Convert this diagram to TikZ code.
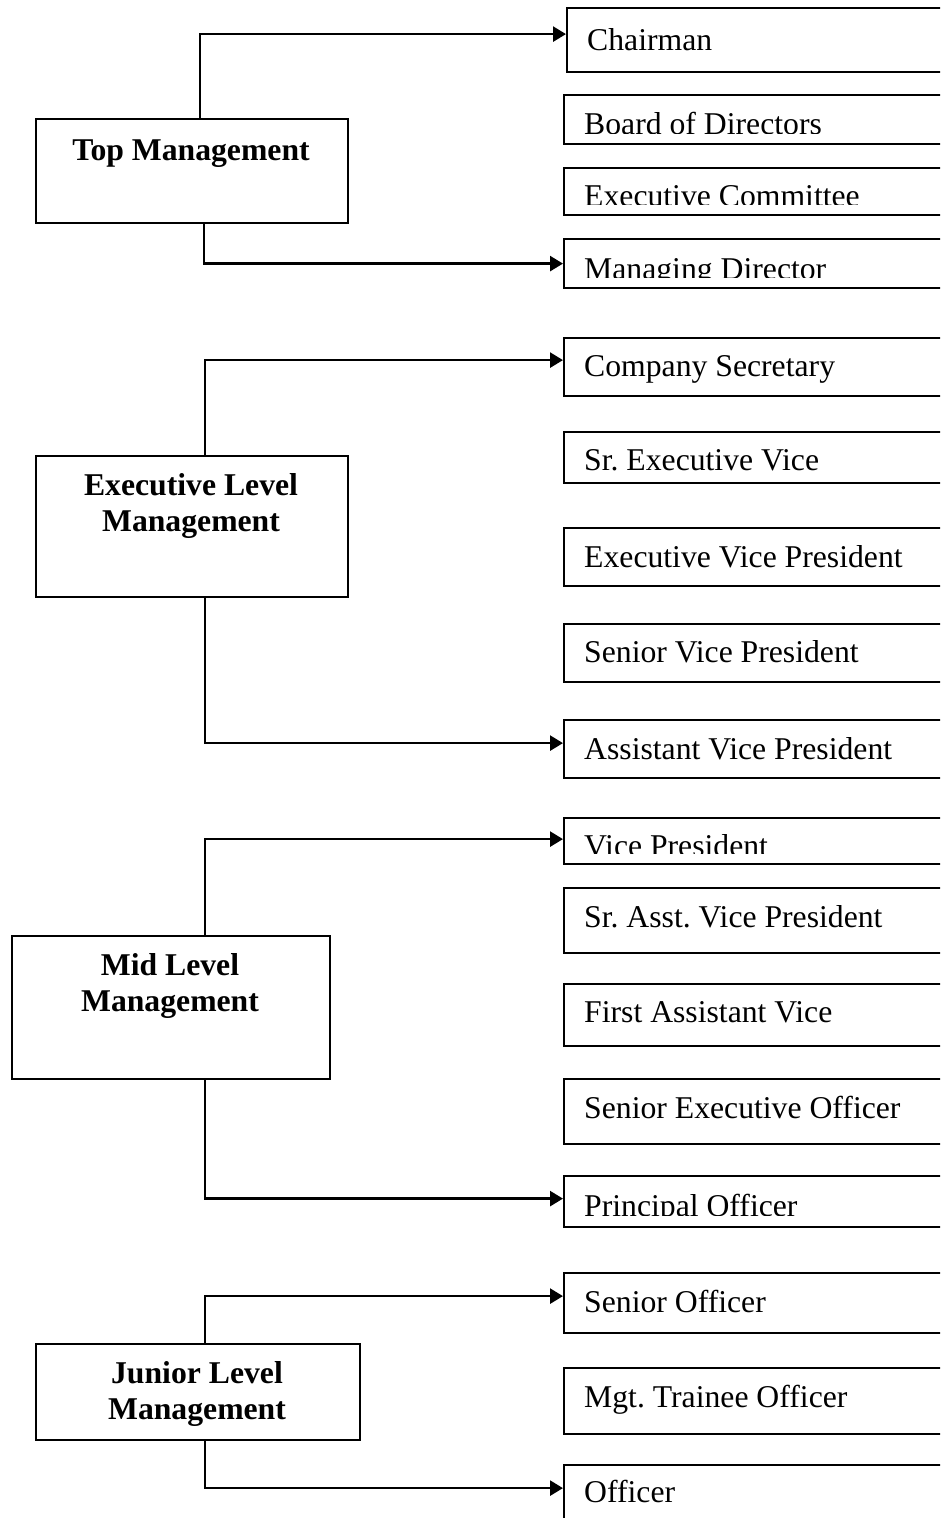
\documentclass[tikz,border=0pt]{standalone}
\usepackage{fontspec}
\setmainfont{Liberation Serif}
\usetikzlibrary{arrows.meta}
\newcommand\chartfont{\fontsize{31.7}{36}\selectfont\frenchspacing}
\tikzset{
  post/.style={draw, line width=2.2pt, anchor=north west, minimum width=400, inner sep=0pt},
  level/.style={draw, line width=2.2pt, anchor=north west, inner sep=0pt},
  txt/.style={anchor=base west, inner sep=0pt},
  head/.style={anchor=base, inner sep=0pt, align=center, font=\chartfont\bfseries},
  link/.style={line width=2.6pt, -{Triangle[length=13pt,width=15pt]}},
}
\begin{document}
\begin{tikzpicture}[x=1pt, y=-1pt, font=\chartfont]
\clip (0,0) rectangle (940,1518);
% top management
\node[level, minimum width=312, minimum height=104] (tm) at (35,118) {};
\node[head] at (191,160) {Top Management};
\node[post, minimum height=64] (chair) at (566,7) {};
\node[txt] at (587,50) {Chairman};
\node[post, minimum height=49] (bod) at (563,94) {};
\begin{scope}
\clip (563,94) rectangle (940,133);
\node[txt] at (584,134) {Board of Directors};
\end{scope}
\node[post, minimum height=47] (ec) at (563,167) {};
\begin{scope}
\clip (563,167) rectangle (940,204);
\node[txt] at (584,206) {Executive Committee};
\end{scope}
\node[post, minimum height=49] (md) at (563,238) {};
\begin{scope}
\clip (563,238) rectangle (940,277);
\node[txt] at (584,279) {Managing Director};
\end{scope}
\draw[link] ([xshift=8pt]tm.north) |- ([yshift=6pt]chair.west);
\draw[link] ([xshift=12pt]tm.south) |- (md.west);
% executive level
\node[level, minimum width=312, minimum height=141] (elm) at (35,455) {};
\node[head] at (191,531) {Executive Level\\Management};
\node[post, minimum height=58] (cs) at (563,337) {};
\node[txt] at (584,376) {Company Secretary};
\node[post, minimum height=51] (sev) at (563,431) {};
\node[txt] at (584,470) {Sr. Executive Vice};
\node[post, minimum height=58] (evp) at (563,527) {};
\node[txt] at (584,567) {Executive Vice President};
\node[post, minimum height=58] (svp) at (563,623) {};
\node[txt] at (584,662) {Senior Vice President};
\node[post, minimum height=58] (avp) at (563,719) {};
\node[txt] at (584,759) {Assistant Vice President};
\draw[link] ([xshift=13pt]elm.north) |- ([yshift=7pt]cs.west);
\draw[link] ([xshift=13pt]elm.south) |- ([yshift=6pt]avp.west);
% mid level
\node[level, minimum width=318, minimum height=143] (mlm) at (11,935) {};
\node[head] at (170,1011) {Mid Level\\Management};
\node[post, minimum height=46] (vp) at (563,817) {};
\begin{scope}
\clip (563,817) rectangle (940,853);
\node[txt] at (584,856) {Vice President};
\end{scope}
\node[post, minimum height=65] (savp) at (563,887) {};
\node[txt] at (584,927) {Sr. Asst. Vice President};
\node[post, minimum height=62] (fav) at (563,983) {};
\node[txt] at (584,1022) {First Assistant Vice};
\node[post, minimum height=65] (seo) at (563,1078) {};
\node[txt] at (584,1118) {Senior Executive Officer};
\node[post, minimum height=51] (po) at (563,1175) {};
\begin{scope}
\clip (563,1175) rectangle (940,1215);
\node[txt] at (584,1216) {Principal Officer};
\end{scope}
\draw[link] ([xshift=34pt]mlm.north) |- ([yshift=2pt]vp.west);
\draw[link] ([xshift=34pt]mlm.south) |- ([yshift=3pt]po.west);
% junior level
\node[level, minimum width=324, minimum height=96] (jlm) at (35,1343) {};
\node[head] at (197,1419) {Junior Level\\Management};
\node[post, minimum height=60] (so) at (563,1272) {};
\node[txt] at (584,1312) {Senior Officer};
\node[post, minimum height=66] (mto) at (563,1367) {};
\node[txt] at (584,1407) {Mgt. Trainee Officer};
\node[post, minimum height=80] (off) at (563,1464) {};
\node[txt] at (584,1502) {Officer};
\draw[link] ([xshift=7pt]jlm.north) |- ([yshift=7pt]so.west);
\draw[link] ([xshift=7pt]jlm.south) |- ([yshift=17pt]off.west);
\end{tikzpicture}
\end{document}
